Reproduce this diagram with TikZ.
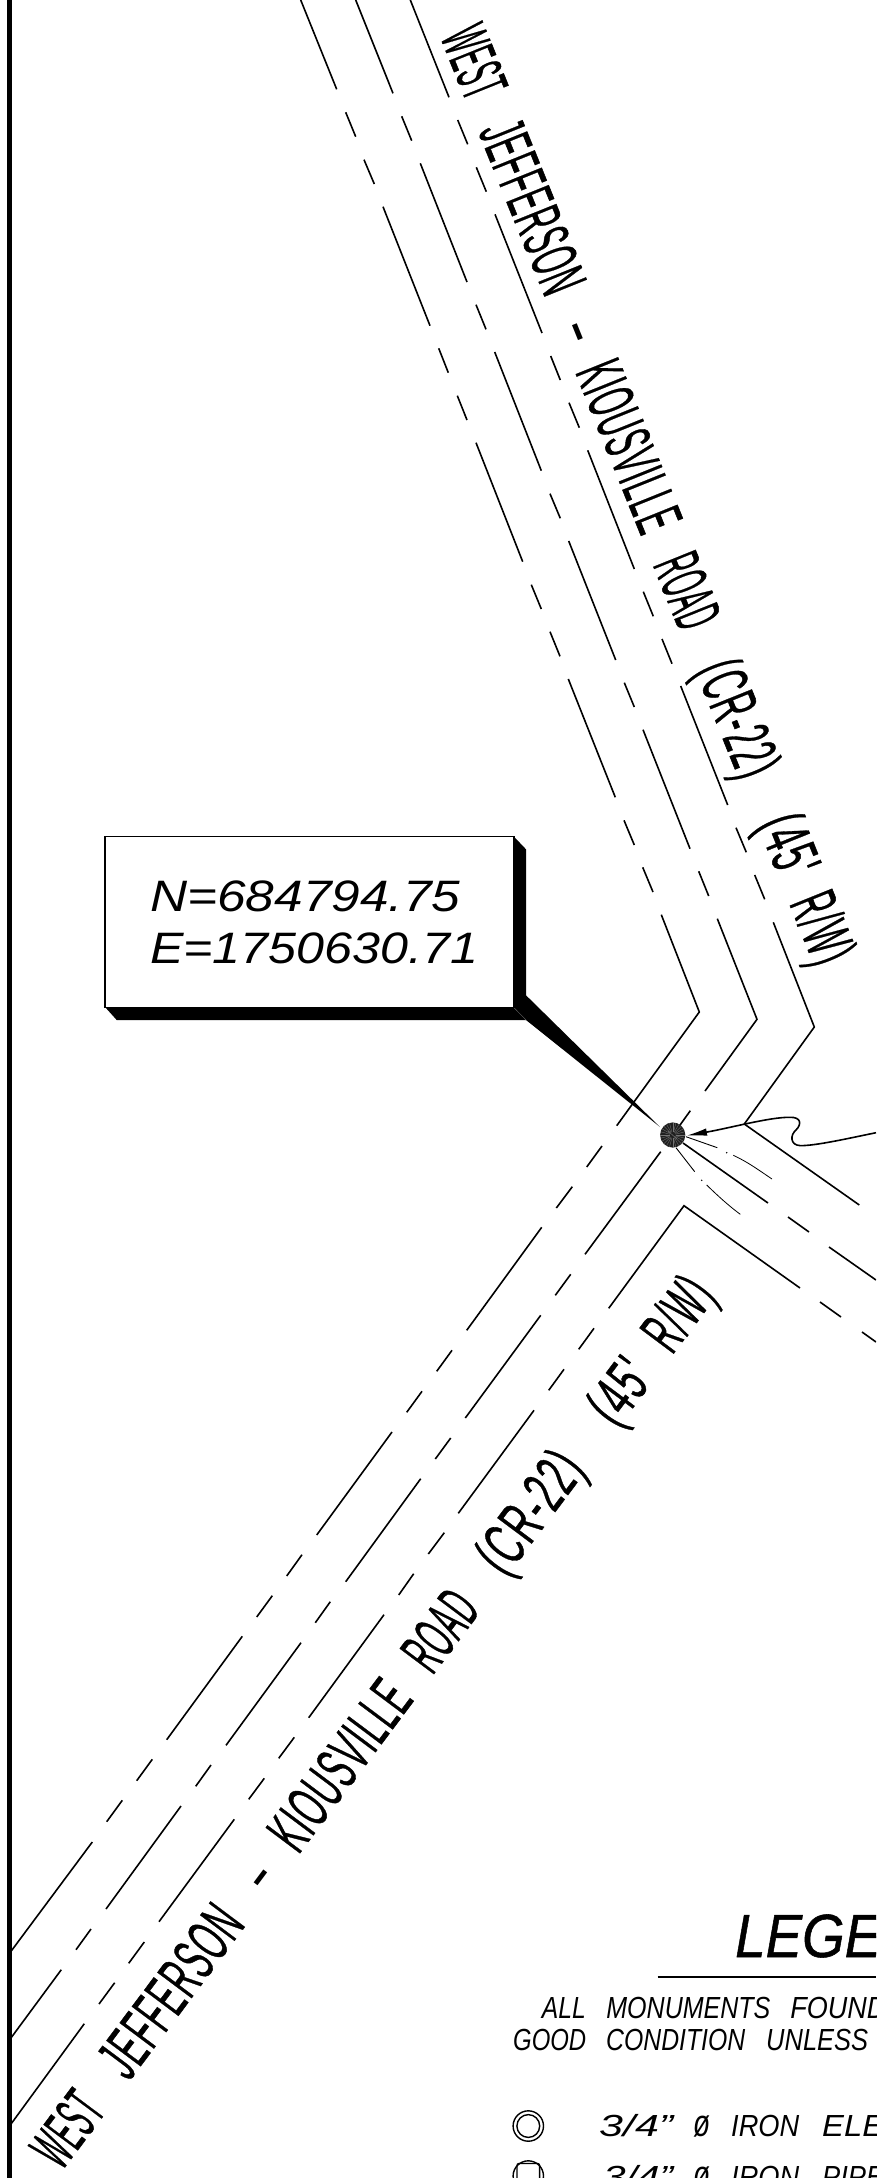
\documentclass[tikz,border=0pt]{standalone}
\usepackage{fontspec}
\usepackage{graphicx}
\usetikzlibrary{arrows.meta}
\setmainfont{Liberation Sans}
\newfontfamily\roadfont{Liberation Sans}[FakeBold=0.8,LetterSpace=5]
\newfontfamily\titlefont{Liberation Sans}[UprightFont=*,ItalicFont=* Italic,ItalicFeatures={FakeBold=0.9}]
\newsavebox\fitb
\newcommand{\tok}[2]{\sbox\fitb{#2}\pgfmathsetmacro\fitr{#1/\wd\fitb}\scalebox{\fitr}[1]{\usebox\fitb}}
\newcommand{\dashmark}[1]{\tok{#1}{\normalfont -}}
\newcommand{\rw}{R\hspace{5pt}/\hspace{5pt}W)}
\tikzset{
  road/.style={line width=1.6pt,line cap=butt,line join=miter},
  thinray/.style={line width=0.9pt},
  lbl/.style={inner sep=0pt,anchor=base west},
  roadlbl/.style={lbl,font=\fontsize{66}{66}\selectfont\roadfont},
  roadlblb/.style={lbl,font=\fontsize{62}{62}\selectfont\roadfont},
  legendlbl/.style={lbl,font=\fontsize{30.5}{32}\selectfont\itshape},
  boxlbl/.style={lbl,font=\fontsize{44}{46}\selectfont\itshape}
}
\begin{document}
\begin{tikzpicture}[x=1pt,y=-1pt]
\clip (0,0) rectangle (876,2178);
\fill[white] (0,0) rectangle (876,2178);
% border
\draw[line width=5pt] (9.3,0) -- (9.3,2178);
% road lines: straight dash pieces
\foreach \xa/\ya/\xb/\yb in {
 300.7/0/336.7/89.3, 345.7/112.3/355.7/136.7, 364/159.7/374.3/184, 383/206.7/430/325.7,
 438.7/348.3/448.3/372.7, 457.3/395.7/467/420, 476/442.7/522.7/561.7, 531.3/584.7/541.3/609,
 550/631.7/560/656.3, 568.3/679/615.3/797.3, 624/820.3/634.3/845, 642.7/867.3/653/892,
 355.7/0/393/93.3, 401.7/116.3/411.7/140.7, 420.3/163.3/467/282, 476/304.7/486/329.3,
 494.7/352/541.3/470.7, 550/493.7/560.3/518.3, 568.7/541/615.7/660, 624.3/682.7/634.3/707,
 643/729.7/690/848.7, 698.7/871.3/708.7/896,
 410.3/0/449/97.3, 457.7/120/467.7/144.3, 476.3/167.3/486.3/191.7, 495/214.3/542/333,
 550.7/356/560.3/380, 569/402.7/579.3/427.7, 587.7/450.3/634.3/569, 643.3/591.7/653.3/616.3,
 662/639/672/663.7, 680.7/686/727.7/805, 736/827.7/746.3/852.3, 754.7/875/764.7/899.3,
 602/1146/586.7/1167, 572.3/1186.7/556.3/1208, 541.7/1227.3/466.7/1330.3, 452/1350.3/436.7/1371.3,
 422/1391.3/406.7/1412.3, 392/1432/316.7/1535, 302/1554.7/286.7/1576, 272.3/1595.7/256.7/1617,
 242.3/1636.3/166.7/1739.7, 152.3/1759.3/136.7/1780.7, 122.3/1800.3/106.7/1821.7, 92.3/1842/10.7/1951.7,
 690.3/1110.7/675/1132, 660.7/1151.7/585/1254.3, 570.7/1274.3/555.3/1295.3, 540.7/1315.3/465.3/1418,
 450.7/1438/435.3/1459, 420.7/1478.7/345.7/1581.7, 330.3/1601.7/315.3/1622.7, 301/1642.7/226/1745.3,
 211/1765/195.7/1786.3, 181/1806/106/1909, 91/1929/76/1949.7, 61.3/1969.7/10.7/2038.3,
 594/1328.3/578.7/1349.3, 564/1369.3/548.7/1390.3, 534/1410.3/458.3/1513.3, 444.3/1532.7/428.3/1554,
 413.7/1573.7/398.7/1595, 384/1614.7/308.7/1717.7, 294.3/1737.3/278.7/1758.3, 264.3/1778.3/248.7/1799.3,
 234.3/1819.3/159/1921.7, 144.3/1942/128.7/1963.3, 114.7/1982.7/99/2004, 84.3/2023.7/11/2124,
 683/1143/768/1203, 788/1217/809/1232, 829/1247/876/1280,
 820/1302/841/1317, 862/1332/876/1342}
 {\draw[road] (\xa,\ya) -- (\xb,\yb);}
% road lines: corners
\draw[road] (661.3,914.7) -- (699.3,1012) -- (616.7,1125.7);
\draw[road] (717.3,918.7) -- (757,1019.3) -- (705,1091);
\draw[road] (773.3,922.3) -- (814.3,1027) -- (744.3,1124) -- (859.3,1205);
\draw[road] (608.7,1308.3) -- (684,1205.7) -- (800,1288);
% broken lines beside the monument
\draw[thinray] (686,1136.7) -- (717.3,1147.7);
\fill (726.7,1152.7) circle[radius=0.8pt];
\draw[line width=0.8pt] (733.3,1155.3) .. controls (748,1162) and (760,1171) .. (772,1179);
\draw[thinray] (676,1147.7) -- (694.7,1171.7);
\fill (701.7,1180.3) circle[radius=0.8pt];
\draw[line width=0.8pt] (706.7,1185) .. controls (718,1196) and (729,1206) .. (740.3,1214.3);
% monument
\coordinate (mon) at (672.7,1135);
\fill[black!88] (mon) circle[radius=12.6pt];
\foreach \a in {0,15,...,345}
  \draw[black!55,line width=0.35pt] (mon) ++(\a:3pt) -- ++(\a:9.4pt);
\draw[black!55,line width=0.5pt] (668,1131) -- (677,1139);
% wiggly leader with arrowhead
\coordinate (wigstart) at (876,1132.7);
\coordinate (montip) at (686,1135.7);
\draw[line width=1.6pt,-{Latex[length=21pt,width=7.5pt]}] (wigstart)
  .. controls (850,1138) and (815,1146) .. (800,1145.6)
  .. controls (790,1145) and (790,1135) .. (796,1130)
  .. controls (802,1124) and (801,1117) .. (790,1117.3)
  .. controls (770,1117) and (730,1128) .. (montip);
% callout
\coordinate (wedgetip) at (660,1127);
\fill (514,1008) -- (526,995.3) -- (wedgetip) -- (526,1020) -- cycle;
\fill (105,1007) -- (514,1007) -- (514,836.7) -- (526,849.3) -- (526,1020) -- (116.7,1020) -- cycle;
\draw[black!60,line width=0.4pt] (514,1007.7) -- (526,1020);
\draw[line width=1.5pt,fill=white] (105,836.7) rectangle (514,1007.7);
\node[boxlbl] (northing) at (150,911.7) {\tok{310}{N=684794.75}};
\node[boxlbl] (easting) at (150,963.3) {\tok{328}{E=1750630.71}};
% road names
\node[roadlbl,rotate=-68.06] (roadupper) at (440,37) {\tok{71}{WEST}\hspace{31pt}\tok{180}{JEFFERSON}\hspace{32pt}\dashmark{22}\hspace{25pt}\tok{178}{KIOUSVILLE}\hspace{30pt}\tok{74}{ROAD}\hspace{40pt}\tok{120}{(CR-22)}\hspace{46pt}\tok{61}{(45'}\hspace{24pt}\tok{70}{\rw}};
\node[roadlblb,rotate=53.2] (roadlower) at (61.7,2171.7) {\tok{75}{WEST}\hspace{37pt}\tok{196}{JEFFERSON}\hspace{35pt}\dashmark{22}\hspace{30pt}\tok{194}{KIOUSVILLE}\hspace{30pt}\tok{82}{ROAD}\hspace{40pt}\tok{135}{(CR-22)}\hspace{51pt}\tok{64}{(45'}\hspace{28pt}\tok{74}{\rw}};
% legend
\node[lbl,font=\fontsize{61}{61}\selectfont\titlefont\itshape] (legendtitle) at (735,1957) {\tok{146}{LEGE}};
\draw[line width=2.6pt] (657.7,1977) -- (876,1977);
\node[legendlbl] (legendA) at (541.7,2018) {\tok{44}{ALL}\hspace{20.5pt}\tok{164}{MONUMENTS}\hspace{20pt}\tok{96}{FOUND}};
\node[legendlbl] (legendB) at (513,2050.7) {\tok{73}{GOOD}\hspace{20pt}\tok{139}{CONDITION}\hspace{21pt}\tok{102}{UNLESS}};
\node[legendlbl] (itemA) at (599,2136.7) {\tok{74}{3/4”}\hspace{20pt}\tok{17}{\fontsize{38}{38}\selectfont ø}\hspace{21pt}\tok{68}{IRON}\hspace{23pt}\tok{62}{ELE}};
\node[legendlbl] (itemB) at (603,2187) {\tok{70}{3/4”}\hspace{20pt}\tok{17}{\fontsize{38}{38}\selectfont ø}\hspace{21pt}\tok{68}{IRON}\hspace{23pt}\tok{62}{PIPE}};
\draw[line width=1.4pt] (528.3,2126) circle[radius=15.2pt];
\draw[line width=1.4pt] (528.3,2126) circle[radius=11.4pt];
\draw[line width=1.4pt] (528.3,2176) circle[radius=15.2pt];
\draw[line width=1.4pt,rounded corners=2pt] (517,2163.5) rectangle (539.6,2186);
\end{tikzpicture}
\end{document}
